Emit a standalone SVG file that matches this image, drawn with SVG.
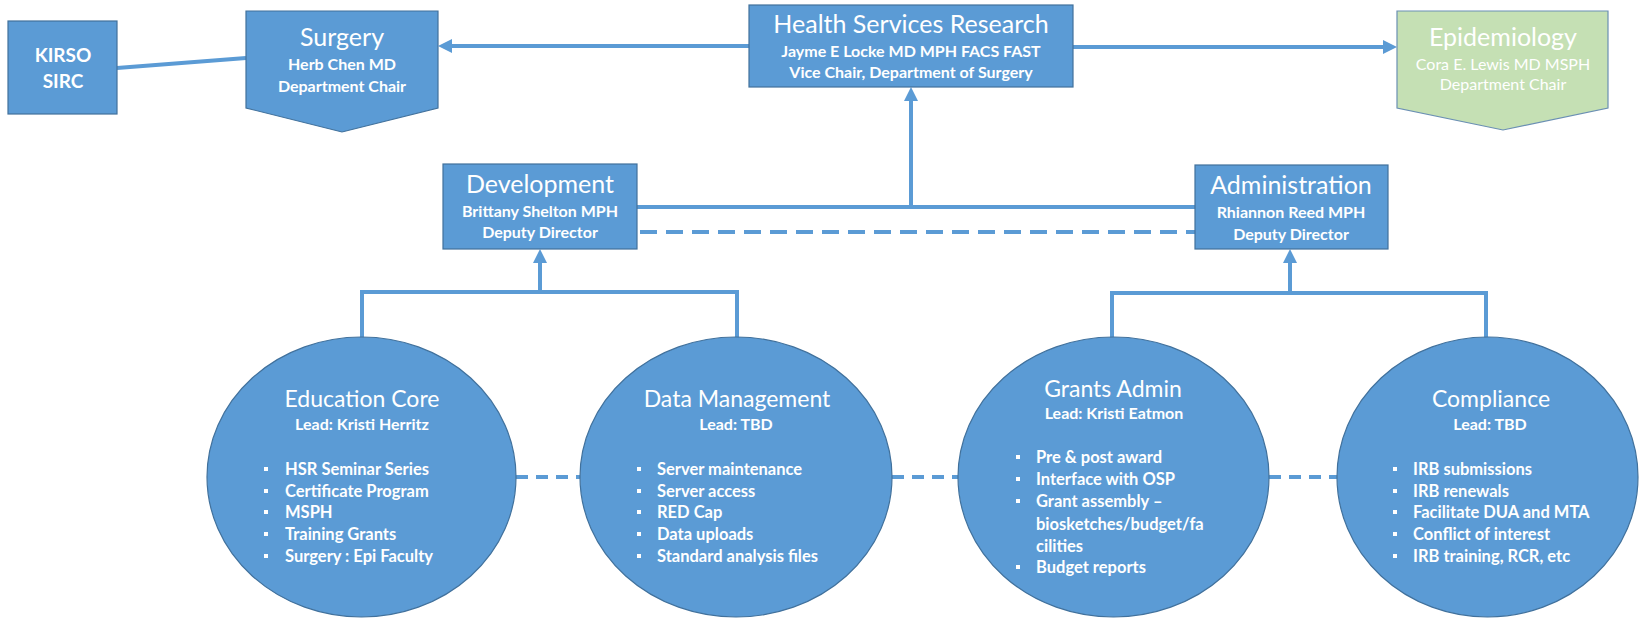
<svg xmlns="http://www.w3.org/2000/svg" width="1639" height="618" viewBox="0 0 1639 618">
<defs>
<style>
.box{fill:#5b9bd5;stroke:#41719c;stroke-width:1.2}
.green{fill:#c5e0b4;stroke:#6a8fb3;stroke-width:1.2}
.ln{fill:none;stroke:#5b9bd5;stroke-width:4}
.dash{fill:none;stroke:#5b9bd5;stroke-width:4;stroke-dasharray:12 8}
.dash2{fill:none;stroke:#5b9bd5;stroke-width:4;stroke-dasharray:17 9}
text{font-family:Lato,"Liberation Sans",sans-serif;fill:#ffffff}
.t{font-size:25px;text-anchor:middle}
.s{font-size:16px;font-weight:bold;text-anchor:middle}
.ct{font-size:23px;text-anchor:middle}
.cl{font-size:16px;font-weight:bold;text-anchor:middle}
.b{font-size:16.5px;font-weight:bold}
.k{font-size:19px;font-weight:bold;text-anchor:middle}
.bul{fill:#ffffff}
</style>
<marker id="arr" markerUnits="userSpaceOnUse" markerWidth="14" markerHeight="14" viewBox="0 0 14 14" refX="4" refY="7" orient="auto">
<path d="M0,0 L14,7 L0,14 z" fill="#5b9bd5"/>
</marker>
</defs>

<g id="connectors">
<line class="ln" x1="117" y1="68" x2="246" y2="58"/>
<line class="ln" x1="749" y1="46" x2="448" y2="46" marker-end="url(#arr)"/>
<line class="ln" x1="1073" y1="47" x2="1387" y2="47" marker-end="url(#arr)"/>
<line class="ln" x1="637" y1="207" x2="1195" y2="207"/>
<line class="ln" x1="911" y1="207" x2="911" y2="97" marker-end="url(#arr)"/>
<line class="dash2" x1="640" y1="232" x2="1195" y2="232"/>
<path class="ln" d="M362,340 V292 H737 V340"/>
<line class="ln" x1="540" y1="292" x2="540" y2="259" marker-end="url(#arr)"/>
<path class="ln" d="M1112,340 V293 H1486 V340"/>
<line class="ln" x1="1290" y1="293" x2="1290" y2="259" marker-end="url(#arr)"/>
<line class="dash" x1="516" y1="477" x2="580" y2="477"/>
<line class="dash" x1="892" y1="477" x2="958" y2="477"/>
<line class="dash" x1="1269" y1="477" x2="1337" y2="477"/>
</g>

<g id="kirso">
<rect class="box" x="8" y="21" width="109" height="93"/>
<text class="k" x="63" y="62">KIRSO</text>
<text class="k" x="63" y="88">SIRC</text>
</g>

<g id="surgery">
<polygon class="box" points="246,11 438,11 438,108 342,132 246,108"/>
<text class="t" x="342" y="46">Surgery</text>
<text class="s" x="342" y="70">Herb Chen MD</text>
<text class="s" x="342" y="92">Department Chair</text>
</g>

<g id="hsr">
<rect class="box" x="749" y="5" width="324" height="82"/>
<text class="t" x="911" y="33">Health Services Research</text>
<text class="s" x="911" y="57">Jayme E Locke MD MPH FACS FAST</text>
<text class="s" x="911" y="78">Vice Chair, Department of Surgery</text>
</g>

<g id="epidemiology">
<polygon class="green" points="1397,11 1608,11 1608,108 1503,130 1397,108"/>
<text class="t" x="1503" y="46">Epidemiology</text>
<text class="s" x="1503" y="70" style="font-weight:normal">Cora E. Lewis MD MSPH</text>
<text class="s" x="1503" y="90" style="font-weight:normal">Department Chair</text>
</g>

<g id="development">
<rect class="box" x="443" y="164" width="194" height="85"/>
<text class="t" x="540" y="193">Development</text>
<text class="s" x="540" y="217">Brittany Shelton MPH</text>
<text class="s" x="540" y="238">Deputy Director</text>
</g>

<g id="administration">
<rect class="box" x="1195" y="165" width="193" height="84"/>
<text class="t" x="1291" y="194">Administration</text>
<text class="s" x="1291" y="218">Rhiannon Reed MPH</text>
<text class="s" x="1291" y="240">Deputy Director</text>
</g>

<g id="education">
<ellipse class="box" cx="361.5" cy="477" rx="154.5" ry="140"/>
<text class="ct" x="362" y="407">Education Core</text>
<text class="cl" x="362" y="430">Lead: Kristi Herritz</text>
<rect class="bul" x="264" y="467" width="4" height="4"/>
<rect class="bul" x="264" y="489" width="4" height="4"/>
<rect class="bul" x="264" y="510" width="4" height="4"/>
<rect class="bul" x="264" y="532" width="4" height="4"/>
<rect class="bul" x="264" y="554" width="4" height="4"/>
<text class="b" x="285" y="475">HSR Seminar Series</text>
<text class="b" x="285" y="497">Certificate Program</text>
<text class="b" x="285" y="518">MSPH</text>
<text class="b" x="285" y="540">Training Grants</text>
<text class="b" x="285" y="562">Surgery : Epi Faculty</text>
</g>

<g id="data-management">
<ellipse class="box" cx="736" cy="477" rx="156" ry="140"/>
<text class="ct" x="737" y="407">Data Management</text>
<text class="cl" x="736" y="430">Lead: TBD</text>
<rect class="bul" x="637" y="467" width="4" height="4"/>
<rect class="bul" x="637" y="489" width="4" height="4"/>
<rect class="bul" x="637" y="510" width="4" height="4"/>
<rect class="bul" x="637" y="532" width="4" height="4"/>
<rect class="bul" x="637" y="554" width="4" height="4"/>
<text class="b" x="657" y="475">Server maintenance</text>
<text class="b" x="657" y="497">Server access</text>
<text class="b" x="657" y="518">RED Cap</text>
<text class="b" x="657" y="540">Data uploads</text>
<text class="b" x="657" y="562">Standard analysis files</text>
</g>

<g id="grants-admin">
<ellipse class="box" cx="1113.5" cy="477" rx="155.5" ry="140"/>
<text class="ct" x="1113" y="397">Grants Admin</text>
<text class="cl" x="1114" y="419">Lead: Kristi Eatmon</text>
<rect class="bul" x="1016" y="455" width="4" height="4"/>
<rect class="bul" x="1016" y="477" width="4" height="4"/>
<rect class="bul" x="1016" y="499" width="4" height="4"/>
<rect class="bul" x="1016" y="565" width="4" height="4"/>
<text class="b" x="1036" y="463">Pre &amp; post award</text>
<text class="b" x="1036" y="485">Interface with OSP</text>
<text class="b" x="1036" y="507">Grant assembly –</text>
<text class="b" x="1036" y="530">biosketches/budget/fa</text>
<text class="b" x="1036" y="552">cilities</text>
<text class="b" x="1036" y="573">Budget reports</text>
</g>

<g id="compliance">
<ellipse class="box" cx="1487.5" cy="477" rx="150.5" ry="140"/>
<text class="ct" x="1491" y="407">Compliance</text>
<text class="cl" x="1490" y="430">Lead: TBD</text>
<rect class="bul" x="1393" y="467" width="4" height="4"/>
<rect class="bul" x="1393" y="489" width="4" height="4"/>
<rect class="bul" x="1393" y="510" width="4" height="4"/>
<rect class="bul" x="1393" y="532" width="4" height="4"/>
<rect class="bul" x="1393" y="554" width="4" height="4"/>
<text class="b" x="1413" y="475">IRB submissions</text>
<text class="b" x="1413" y="497">IRB renewals</text>
<text class="b" x="1413" y="518">Facilitate DUA and MTA</text>
<text class="b" x="1413" y="540">Conflict of interest</text>
<text class="b" x="1413" y="562">IRB training, RCR, etc</text>
</g>
</svg>
